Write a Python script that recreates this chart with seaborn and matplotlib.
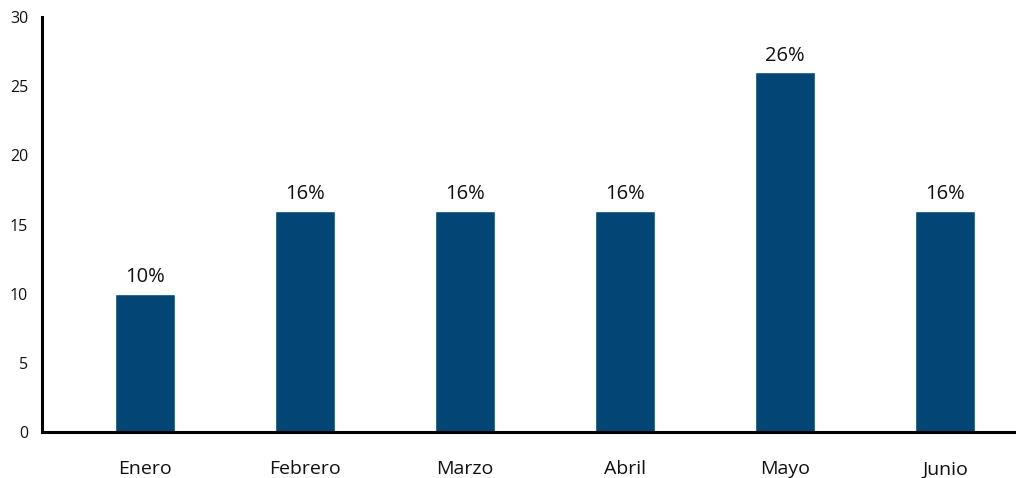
import pandas as pd
import matplotlib.pyplot as plt
import seaborn as sns

# Porcentaje mensual (enero a junio)
meses = ["Enero", "Febrero", "Marzo", "Abril", "Mayo", "Junio"]
valores = [10, 16, 16, 16, 26, 16]
etiquetas = ["10%", "16%", "16%", "16%", "26%", "16%"]

df = pd.DataFrame({"Mes": meses, "Valor": valores})

sns.set_style("white")
plt.rcParams["font.family"] = ["Open Sans", "DejaVu Sans"]

fig = plt.figure(figsize=(10.16, 4.78), dpi=100)
ax = fig.add_axes([0.0413, 0.0962, 0.9587, 0.8682])

sns.barplot(data=df, x="Mes", y="Valor", color="#034575", width=0.37,
            saturation=1, ax=ax)

ax.bar_label(ax.containers[0], labels=etiquetas, padding=4.5,
             fontsize=14.5, color="#111111")

ax.set_ylim(0, 30)
ax.set_xlim(-0.644, 5.444)
ax.set_yticks(range(0, 31, 5))
ax.set_xlabel("")
ax.set_ylabel("")

ax.tick_params(axis="y", length=0, pad=10, labelsize=11.5, labelcolor="#111111")
ax.tick_params(axis="x", length=0, pad=20.5, labelsize=14, labelcolor="#111111")

for s in ["top", "right"]:
    ax.spines[s].set_visible(False)
for s in ["left", "bottom"]:
    ax.spines[s].set_color("black")
    ax.spines[s].set_linewidth(2.2)

fig.savefig("out.png", dpi=100)
